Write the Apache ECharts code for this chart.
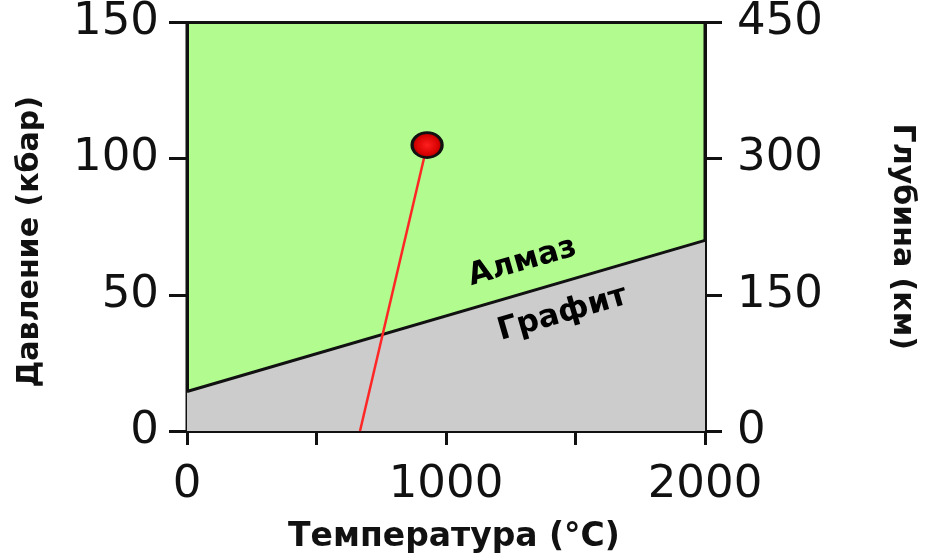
<!DOCTYPE html>
<html><head><meta charset="utf-8">
<script src="https://cdn.jsdelivr.net/npm/echarts@6/dist/echarts.min.js"></script>
<style>html,body{margin:0;padding:0;background:#fff}#c{width:928px;height:559px}</style>
</head><body><div id="c"></div>
<script>
// Data
const xTicks = [0, 500, 1000, 1500, 2000];
const xLabels = ['0', '', '1000', '', '2000'];
const pressureTicks = [0, 50, 100, 150];
const depthTicks = [0, 150, 300, 450];
const boundary = [[0, 14.5], [2000, 70]];           // diamond/graphite boundary (T °C, P kbar)
const geotherm = [[668, 0], [927, 105]];              // red path
const point = [[927, 105]];                           // red dot
const regionLabels = [
  { name: 'Алмаз', value: [1295, 62] },
  { name: 'Графит', value: [1450, 43] }
];

const chart = echarts.init(document.getElementById('c'));
const font = 'DejaVu Sans';
chart.setOption({
  animation: false,
  grid: { left: 187, right: 223, top: 17, bottom: 126, show: true, backgroundColor: '#b1fb8f', borderColor: '#111', borderWidth: 3 },
  xAxis: {
    type: 'value', min: 0, max: 2000, interval: 500,
    name: 'Температура (°C)', nameLocation: 'middle', nameGap: 90,
    nameTextStyle: { fontFamily: font, fontWeight: 'bold', fontSize: 33, color: '#111', padding: [0, 0, 0, 16] },
    axisLine: { lineStyle: { color: '#111', width: 3 } },
    axisTick: { length: 14, lineStyle: { color: '#111', width: 3 } },
    axisLabel: { margin: 32, fontFamily: font, fontSize: 45, color: '#111',
      formatter: v => xLabels[xTicks.indexOf(v)] || '' },
    splitLine: { show: false }
  },
  yAxis: [{
    type: 'value', min: 0, max: 150, interval: 50, position: 'left',
    name: 'Давление (кбар)', nameLocation: 'middle', nameGap: 142, nameRotate: 90,
    nameTextStyle: { fontFamily: font, fontWeight: 'bold', fontSize: 30, color: '#111', padding: [0, 30, 0, 0] },
    axisLine: { show: true, lineStyle: { color: '#111', width: 3 } },
    axisTick: { show: true, length: 18, lineStyle: { color: '#111', width: 3 } },
    axisLabel: { margin: 28, fontFamily: font, fontSize: 45, color: '#111',
      formatter: v => pressureTicks.includes(v) ? String(v) : '' },
    splitLine: { show: false }
  }, {
    type: 'value', min: 0, max: 450, interval: 150, position: 'right',
    name: 'Глубина (км)', nameLocation: 'middle', nameGap: 182, nameRotate: -90,
    nameTextStyle: { fontFamily: font, fontWeight: 'bold', fontSize: 30, color: '#111', padding: [0, 0, 0, 20] },
    axisLine: { show: true, lineStyle: { color: '#111', width: 3 } },
    axisTick: { show: true, length: 17, lineStyle: { color: '#111', width: 3 } },
    axisLabel: { margin: 32, fontFamily: font, fontSize: 45, color: '#111',
      formatter: v => depthTicks.includes(v) ? String(v) : '' },
    splitLine: { show: false }
  }],
  series: [
    { type: 'line', data: boundary, symbol: 'none', z: 3,
      lineStyle: { color: '#111', width: 3 },
      areaStyle: { color: '#cccccc', opacity: 1, origin: 'start' } },
    { type: 'line', data: geotherm, symbol: 'none', z: 4,
      lineStyle: { color: '#ff2626', width: 2.5 } },
    { type: 'scatter', data: point, z: 5, symbolSize: [30, 25],
      itemStyle: { opacity: 1, borderColor: '#111', borderWidth: 3,
        color: { type: 'radial', x: 0.5, y: 0.5, r: 0.5,
          colorStops: [{ offset: 0, color: '#ff1f1f' }, { offset: 0.7, color: '#d60000' }, { offset: 1, color: '#700000' }] } } },
    { type: 'scatter', data: regionLabels, symbolSize: 0, z: 6,
      itemStyle: { color: '#111', opacity: 1 },
      label: { show: true, position: 'inside', formatter: p => p.name, rotate: 16,
        fontFamily: font, fontWeight: 'bold', fontSize: 31, color: '#000', textBorderWidth: 0, opacity: 1 } }
  ]
});
</script></body></html>
